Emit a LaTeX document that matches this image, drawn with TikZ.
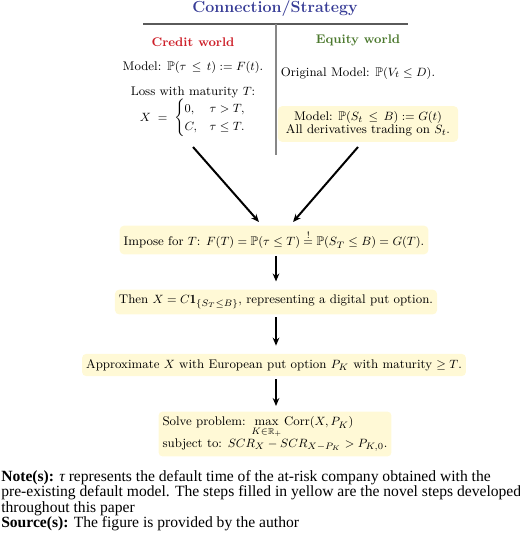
\documentclass[tikz,border=0pt]{standalone}
\usepackage{amsmath,amssymb}
\usepackage{fontspec}
\newfontfamily\notefont{Liberation Serif}
\usetikzlibrary{arrows.meta}
\definecolor{titleblue}{RGB}{55,60,150}
\definecolor{credred}{RGB}{205,30,40}
\definecolor{eqgreen}{RGB}{75,120,45}
\definecolor{boxyellow}{RGB}{255,249,214}
\definecolor{rulegray}{RGB}{90,90,90}
\definecolor{vgray}{RGB}{135,135,135}
\tikzset{
  dfont/.style={font=\fontsize{9.4}{11}\selectfont},
  yellowbox/.style={dfont, fill=boxyellow, rounded corners=3pt, inner xsep=3pt, inner ysep=4pt, align=center},
  plaintext/.style={dfont, inner sep=0pt, align=center},
  bigarrow/.style={line width=1.5pt, -{Stealth[length=6pt,width=5pt]}},
  notetext/.style={anchor=base west, inner sep=0pt, font=\notefont\fontsize{11.7}{13}\selectfont},
}
\begin{document}
\begin{tikzpicture}[x=0.75pt,y=-0.75pt]
\path[use as bounding box] (0,0) rectangle (520,542);
% header
\node[inner sep=0pt, font=\large\bfseries, text=titleblue] (title) at (275,9) {Connection/Strategy};
\coordinate (rl) at (143,24);
\coordinate (rr) at (408,24);
\coordinate (vt) at (276,24);
\coordinate (vb) at (276,155);
\draw[rulegray, line width=0.9pt] (rl) -- (rr);
\draw[vgray, line width=1.1pt] (vt) -- (vb);
% credit world
\node[plaintext, font=\fontsize{9.4}{11}\selectfont\bfseries, text=credred] (credit) at (193,42) {Credit world};
\node[plaintext] (cmodel) at (193,67) {Model: $\mathbb{P}(\tau \,\le\, t) := F(t)$.};
\node[plaintext] (loss) at (193,92) {Loss with maturity $T$:};
\node[plaintext] (xcases) at (193,118) {$X \;=\; \begin{cases}0, & \tau > T,\\ C, & \tau \le T.\end{cases}$};
% equity world
\node[plaintext, font=\fontsize{9.4}{11}\selectfont\bfseries, text=eqgreen] (equity) at (358,40) {Equity world};
\node[plaintext] (omodel) at (358,73) {Original Model: $\mathbb{P}(V_t \le D)$.};
\node[yellowbox, inner xsep=6pt] (rbox) at (368,124) {Model: $\mathbb{P}(S_t \,\le\, B) := G(t)$\\[-1pt] All derivatives trading on $S_t$.};
% chain
\node[yellowbox] (impose) at (274,240) {Impose for $T$: $F(T) = \mathbb{P}(\tau \le T) \stackrel{!}{=} \mathbb{P}(S_T \le B) = G(T)$.};
\node[yellowbox] (then) at (276,302) {Then $X = C\mathbf{1}_{\{S_T \le B\}}$, representing a digital put option.};
\node[yellowbox] (approx) at (274,365) {Approximate $X$ with European put option $P_K$ with maturity $\ge T$.};
\node[yellowbox, align=left] (solve) at (275,434) {Solve problem: $\max\limits_{K\in\mathbb{R}_+} \mathrm{Corr}(X, P_K)$\\[-1pt] subject to: $SCR_X - SCR_{X-P_K} > P_{K,0}$.};
% arrows
\coordinate (ls) at (193,147);
\coordinate (le) at (259,222);
\coordinate (rs) at (358,147);
\coordinate (re) at (293,222);
\draw[bigarrow] (ls) -- (le);
\draw[bigarrow] (rs) -- (re);
\draw[bigarrow, shorten <=1pt, shorten >=6pt] (impose.south -| then.north) -- (then.north);
\draw[bigarrow, shorten <=2pt, shorten >=6pt] (then.south) -- (then.south |- approx.north);
\draw[bigarrow, shorten <=2pt, shorten >=4pt] (then.south |- approx.south) -- (then.south |- solve.north);
% notes
\node[notetext] (n1) at (1,481) {\textbf{Note(s):} {\itshape τ} represents the default time of the at-risk company obtained with the};
\node[notetext] (n2) at (1,496.5) {pre-existing default model. The steps filled in yellow are the novel steps developed};
\node[notetext] (n3) at (1,512) {throughout this paper};
\node[notetext] (n4) at (1,527.5) {\textbf{Source(s):} The figure is provided by the author};
\end{tikzpicture}
\end{document}
